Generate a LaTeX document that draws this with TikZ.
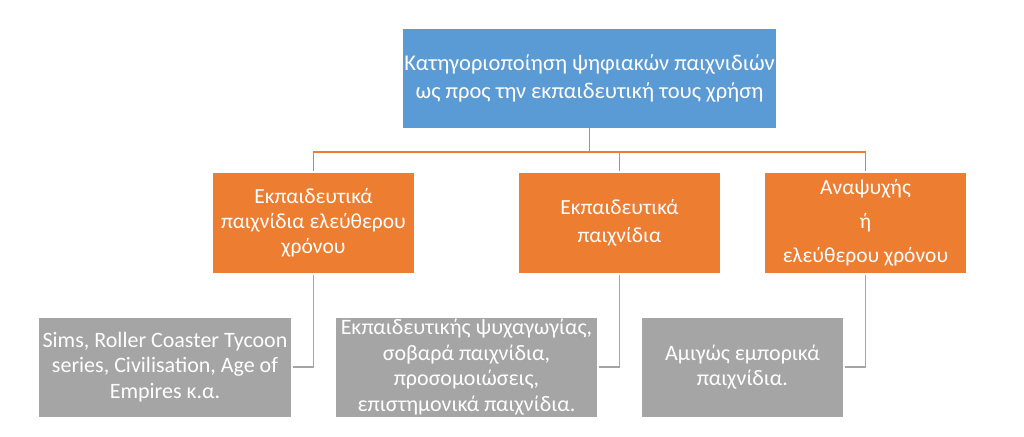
\documentclass[tikz,border=0pt]{standalone}
\usepackage{fontspec}
\setmainfont{Carlito}
\usetikzlibrary{calc}
\definecolor{cblue}{HTML}{5B9BD5}
\definecolor{corange}{HTML}{ED7D31}
\definecolor{cgray}{HTML}{A5A5A5}
\tikzset{
  box/.style={rectangle, inner sep=0pt, text=white, align=center, anchor=center},
  topbox/.style={box, fill=cblue, minimum width=373pt, minimum height=99pt, font=\fontsize{22.5}{28}\selectfont},
  obox/.style={box, fill=corange, minimum width=201pt, minimum height=100pt, font=\fontsize{21.5}{25}\selectfont},
  gbox/.style={box, fill=cgray, minimum height=99pt, font=\fontsize{22}{25.5}\selectfont},
  oline/.style={draw=corange, line width=1.6pt},
  gline/.style={draw=cgray, line width=1.8pt, shorten <=2pt, shorten >=2pt},
}
\begin{document}
\begin{tikzpicture}[x=1pt, y=-1pt]
\useasboundingbox (0,0) rectangle (1024,436);
\node[topbox] (top) at (589.5,78.5) {Κατηγοριοποίηση ψηφιακών παιχνιδιών\\ως προς την εκπαιδευτική τους χρήση};
\node[obox] (o1) at (313.5,223) {Εκπαιδευτικά\\παιχνίδια ελεύθερου\\χρόνου};
\node[obox, font=\fontsize{21.5}{28}\selectfont] (o2) at (619.5,223) {Εκπαιδευτικά\\παιχνίδια};
\node[obox, font=\fontsize{21.5}{34}\selectfont] (o3) at (865.5,223) {Αναψυχής\\ή\\ελεύθερου χρόνου};
\node[gbox, minimum width=252pt] (g1) at (165,367) {Sims, Roller Coaster Tycoon\\series, Civilisation, Age of\\Empires κ.α.};
\node[gbox, minimum width=261pt] (g2) at (466.5,367) {Εκπαιδευτικής ψυχαγωγίας,\\σοβαρά παιχνίδια,\\προσομοιώσεις,\\επιστημονικά παιχνίδια.};
\node[gbox, minimum width=201pt] (g3) at (742.5,367) {Αμιγώς εμπορικά\\παιχνίδια.};
\coordinate (bus) at (589.5,152);
\draw[oline] (top.south) -- (bus);
\draw[oline] ($(o1.north)+(0,-2)$) |- (bus) -| ($(o3.north)+(0,-2)$);
\draw[oline] ($(o2.north)+(0,-2)$) |- (bus);
\draw[gline] (o1.south) |- (g1.east);
\draw[gline] (o2.south) |- (g2.east);
\draw[gline] (o3.south) |- (g3.east);
\end{tikzpicture}
\end{document}
